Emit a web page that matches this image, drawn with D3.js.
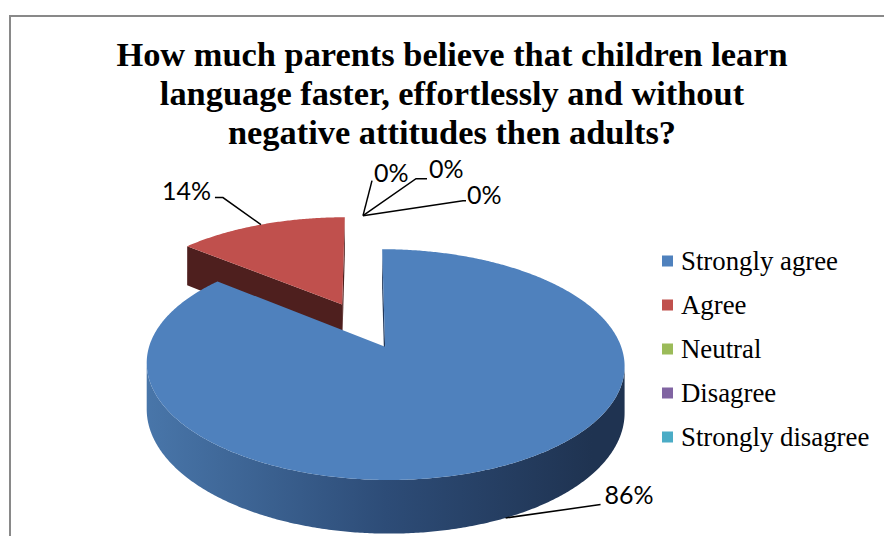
<!DOCTYPE html>
<html>
<head>
<meta charset="utf-8">
<script src="https://cdn.jsdelivr.net/npm/d3@7"></script>
<style>
  body { margin: 0; background: #fff; }
</style>
</head>
<body>
<script>
// Chart data
const categories = ["Strongly agree", "Agree", "Neutral", "Disagree", "Strongly disagree"];
const percents = [86, 14, 0, 0, 0];
const colors = ["#4f81bd", "#c0504d", "#9bbb59", "#8064a2", "#4bacc6"];
const titleLines = [
    "How much parents believe that children learn",
    "language faster, effortlessly and without",
    "negative attitudes then adults?"
];

const width = 884, height = 536;

const svg = d3.select("body").append("svg")
    .attr("width", width)
    .attr("height", height);

// Chart frame (runs off the right and bottom edges)
svg.append("path")
    .attr("d", `M10,${height}V16H${width}`)
    .attr("fill", "none")
    .attr("stroke", "#898989")
    .attr("stroke-width", 2);

// Title
svg.append("g").selectAll("text")
    .data(titleLines)
    .join("text")
    .attr("x", 452)
    .attr("y", (d, i) => 66 + i * 39)
    .attr("text-anchor", "middle")
    .style("font-family", "'Liberation Serif', 'Times New Roman', serif")
    .style("font-weight", "bold")
    .style("font-size", "34.4px")
    .text(d => d);

// 3D pie geometry: disk coords (px right, pz far), perspective factor k
const pie3d = { cx: 363, cy: 325, rx: 229, ry: 106, k: 0.15, depth: 44, explode: 0.22 };

function project(px, pz, down) {
    const f = 1 / (1 + pie3d.k * pz);
    return [pie3d.cx + pie3d.rx * px * f, pie3d.cy - pie3d.ry * pz * f + (down ? pie3d.depth * f : 0)];
}

const arcs = d3.pie().sort(null).value(d => d)(percents);
arcs.forEach(a => {
    const mid = (a.startAngle + a.endAngle) / 2;
    a.ox = pie3d.explode * Math.sin(mid);
    a.oz = pie3d.explode * Math.cos(mid);
    a.pt = (ang, r, down) => project(a.ox + r * Math.sin(ang), a.oz + r * Math.cos(ang), down);
});

const line = d3.line();
const poly = pts => line(pts) + "Z";

// camera sits in front of the disk, used to decide which radial walls face us
const cam = [0, -1 / pie3d.k];
function wallVisible(a, ang, isStart) {
    const n = isStart ? [-Math.cos(ang), Math.sin(ang)] : [Math.cos(ang), -Math.sin(ang)];
    return n[0] * (cam[0] - a.ox) + n[1] * (cam[1] - a.oz) > 0;
}

const defs = svg.append("defs");
const darker = ["#22385a", "#4e1f1e", "#4d5e2c", "#403251", "#255663"];
const sideStops = [
    ["#4a78ac", "#2d4c77", "#1f3351"],
    ["#a34442", "#7a3331", "#5a2524"],
    ["#84a04c", "#637839", "#4d5e2c"],
    ["#6d558a", "#524067", "#403251"],
    ["#409ab2", "#307386", "#255663"]
];
sideStops.forEach((s, i) => {
    const g = defs.append("linearGradient")
        .attr("id", "side" + i)
        .attr("gradientUnits", "userSpaceOnUse")
        .attr("x1", pie3d.cx - pie3d.rx).attr("x2", pie3d.cx + pie3d.rx)
        .attr("y1", 0).attr("y2", 0);
    g.append("stop").attr("offset", 0).attr("stop-color", s[0]);
    g.append("stop").attr("offset", 0.55).attr("stop-color", s[1]);
    g.append("stop").attr("offset", 1).attr("stop-color", s[2]);
});

// paint far slices first
const drawOrder = arcs.filter(a => a.value > 0)
    .sort((a, b) => b.oz - a.oz);

const pieG = svg.append("g");
const step = Math.PI / 360;

drawOrder.forEach(a => {
    const i = a.index;
    const g = pieG.append("g");

    // radial walls
    [[a.startAngle, true], [a.endAngle, false]].forEach(([ang, isStart]) => {
        if (!wallVisible(a, ang, isStart)) return;
        g.append("path")
            .attr("d", poly([a.pt(0, 0, false), a.pt(ang, 1, false), a.pt(ang, 1, true), a.pt(0, 0, true)]))
            .attr("fill", darker[i]);
    });

    // outer wall: keep the stretches where the rim runs right-to-left on screen
    const angs = d3.range(a.startAngle, a.endAngle, step).concat([a.endAngle]);
    let run = [];
    const runs = [];
    for (let j = 0; j < angs.length - 1; j++) {
        const p0 = a.pt(angs[j], 1, false), p1 = a.pt(angs[j + 1], 1, false);
        if (p1[0] < p0[0]) {
            if (!run.length) run.push(angs[j]);
            run.push(angs[j + 1]);
        } else if (run.length) { runs.push(run); run = []; }
    }
    if (run.length) runs.push(run);
    runs.forEach(r => {
        const top = r.map(t => a.pt(t, 1, false));
        const bot = r.map(t => a.pt(t, 1, true)).reverse();
        g.append("path")
            .attr("d", poly(top.concat(bot)))
            .attr("fill", `url(#side${i})`);
    });

    // top face
    const topPts = [a.pt(0, 0, false)].concat(angs.map(t => a.pt(t, 1, false)));
    g.append("path")
        .attr("d", poly(topPts))
        .attr("fill", colors[i]);
});

// Data labels with leader lines (offsets relative to each slice's anchor)
const labelLayout = [
    { at: "side", path: [[95, -13.4]], text: [99, -13.5], anchor: "start" },
    { at: "top", path: [[-38, -27], [-46, -27]], text: [-50, -25], anchor: "end" },
    { at: "top", path: [[9, -35]], text: [11, -34], anchor: "start" },
    { at: "top", path: [[53, -37], [64, -37]], text: [66, -38], anchor: "start" },
    { at: "top", path: [[100, -15], [103, -15]], text: [104, -12], anchor: "start" }
];

const labelG = svg.append("g");
arcs.forEach((a, i) => {
    const mid = (a.startAngle + a.endAngle) / 2;
    const L = labelLayout[i];
    const anchorPt = L.at === "side" ? a.pt(mid, 1, true) : a.pt(mid, 1, false);
    const pts = [anchorPt].concat(L.path.map(o => [anchorPt[0] + o[0], anchorPt[1] + o[1]]));
    labelG.append("path")
        .attr("d", line(pts))
        .attr("fill", "none")
        .attr("stroke", "#000")
        .attr("stroke-width", 1.5);
    labelG.append("text")
        .attr("x", anchorPt[0] + L.text[0])
        .attr("y", anchorPt[1] + L.text[1])
        .attr("text-anchor", L.anchor)
        .style("font-family", "Lato, 'Open Sans', sans-serif")
        .style("font-size", "25px")
        .attr("fill", "#000")
        .text(percents[i] + "%");
});

// Legend
const legend = svg.append("g")
    .selectAll("g")
    .data(categories)
    .join("g")
    .attr("transform", (d, i) => `translate(662,${261 + i * 44})`);

legend.append("rect")
    .attr("x", 0)
    .attr("y", -5.5)
    .attr("width", 11)
    .attr("height", 11)
    .attr("fill", (d, i) => colors[i]);

legend.append("text")
    .attr("x", 19)
    .attr("y", 9)
    .style("font-family", "'Liberation Serif', 'Times New Roman', serif")
    .style("font-size", "26.8px")
    .text(d => d);
</script>
</body>
</html>
